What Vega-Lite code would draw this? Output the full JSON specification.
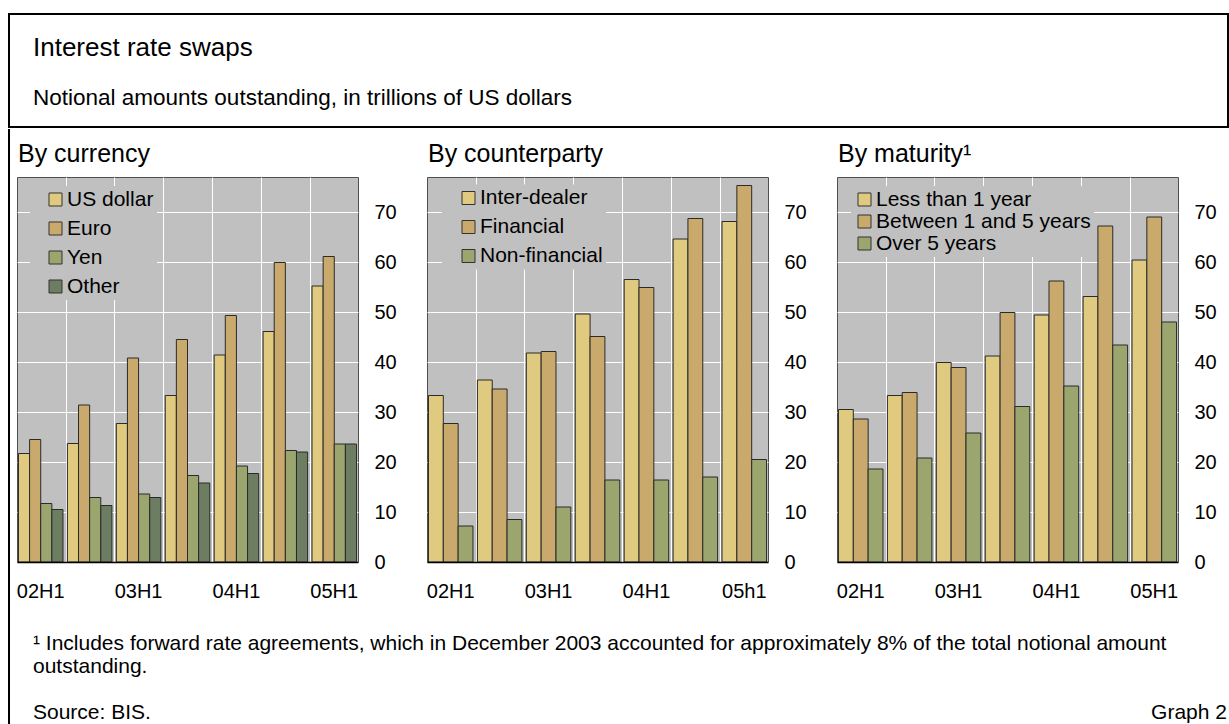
{
  "$schema": "https://vega.github.io/schema/vega-lite/v6.json",
  "background": "white",
  "padding": {"left": 8, "top": 13, "right": 0, "bottom": 0},
  "config": {
    "font": "Liberation Sans",
    "view": {"fill": "#c0c0c0", "stroke": "#505050", "strokeWidth": 1},
    "title": {"font": "Liberation Sans", "subtitleFont": "Liberation Sans", "fontWeight": "normal", "subtitleFontWeight": "normal", "color": "black", "subtitleColor": "black", "anchor": "start"},
    "axis": {"labelFont": "Liberation Sans", "labelColor": "black", "labelFontSize": 20, "ticks": false, "domain": false},
    "legend": {"labelFont": "Liberation Sans", "labelFontSize": 21, "labelColor": "black", "labelLimit": 400, "symbolType": "square", "symbolSize": 169, "symbolStrokeColor": "#333333", "symbolStrokeWidth": 1, "fillColor": "#c0c0c0", "padding": 3, "labelOffset": 1, "orient": "none"}
  },
  "datasets": {
    "currency": [
      {"period": "02H1", "series": "US dollar", "value": 21.7},
      {"period": "02H2", "series": "US dollar", "value": 23.7},
      {"period": "03H1", "series": "US dollar", "value": 27.7},
      {"period": "03H2", "series": "US dollar", "value": 33.3},
      {"period": "04H1", "series": "US dollar", "value": 41.4},
      {"period": "04H2", "series": "US dollar", "value": 46.1},
      {"period": "05H1", "series": "US dollar", "value": 55.2},
      {"period": "02H1", "series": "Euro", "value": 24.5},
      {"period": "02H2", "series": "Euro", "value": 31.4},
      {"period": "03H1", "series": "Euro", "value": 40.8},
      {"period": "03H2", "series": "Euro", "value": 44.5},
      {"period": "04H1", "series": "Euro", "value": 49.3},
      {"period": "04H2", "series": "Euro", "value": 59.9},
      {"period": "05H1", "series": "Euro", "value": 61.1},
      {"period": "02H1", "series": "Yen", "value": 11.7},
      {"period": "02H2", "series": "Yen", "value": 12.9},
      {"period": "03H1", "series": "Yen", "value": 13.6},
      {"period": "03H2", "series": "Yen", "value": 17.3},
      {"period": "04H1", "series": "Yen", "value": 19.2},
      {"period": "04H2", "series": "Yen", "value": 22.3},
      {"period": "05H1", "series": "Yen", "value": 23.6},
      {"period": "02H1", "series": "Other", "value": 10.5},
      {"period": "02H2", "series": "Other", "value": 11.3},
      {"period": "03H1", "series": "Other", "value": 12.9},
      {"period": "03H2", "series": "Other", "value": 15.8},
      {"period": "04H1", "series": "Other", "value": 17.7},
      {"period": "04H2", "series": "Other", "value": 22.0},
      {"period": "05H1", "series": "Other", "value": 23.6}
    ],
    "counterparty": [
      {"period": "02H1", "series": "Inter-dealer", "value": 33.3},
      {"period": "02H2", "series": "Inter-dealer", "value": 36.4},
      {"period": "03H1", "series": "Inter-dealer", "value": 41.8},
      {"period": "03H2", "series": "Inter-dealer", "value": 49.6},
      {"period": "04H1", "series": "Inter-dealer", "value": 56.5},
      {"period": "04H2", "series": "Inter-dealer", "value": 64.6},
      {"period": "05h1", "series": "Inter-dealer", "value": 68.1},
      {"period": "02H1", "series": "Financial", "value": 27.7},
      {"period": "02H2", "series": "Financial", "value": 34.6},
      {"period": "03H1", "series": "Financial", "value": 42.1},
      {"period": "03H2", "series": "Financial", "value": 45.1},
      {"period": "04H1", "series": "Financial", "value": 54.9},
      {"period": "04H2", "series": "Financial", "value": 68.7},
      {"period": "05h1", "series": "Financial", "value": 75.3},
      {"period": "02H1", "series": "Non-financial", "value": 7.2},
      {"period": "02H2", "series": "Non-financial", "value": 8.5},
      {"period": "03H1", "series": "Non-financial", "value": 11.0},
      {"period": "03H2", "series": "Non-financial", "value": 16.4},
      {"period": "04H1", "series": "Non-financial", "value": 16.4},
      {"period": "04H2", "series": "Non-financial", "value": 17.0},
      {"period": "05h1", "series": "Non-financial", "value": 20.5}
    ],
    "maturity": [
      {"period": "02H1", "series": "Less than 1 year", "value": 30.5},
      {"period": "02H2", "series": "Less than 1 year", "value": 33.3},
      {"period": "03H1", "series": "Less than 1 year", "value": 39.9},
      {"period": "03H2", "series": "Less than 1 year", "value": 41.2},
      {"period": "04H1", "series": "Less than 1 year", "value": 49.4},
      {"period": "04H2", "series": "Less than 1 year", "value": 53.1},
      {"period": "05H1", "series": "Less than 1 year", "value": 60.4},
      {"period": "02H1", "series": "Between 1 and 5 years", "value": 28.6},
      {"period": "02H2", "series": "Between 1 and 5 years", "value": 33.9},
      {"period": "03H1", "series": "Between 1 and 5 years", "value": 38.9},
      {"period": "03H2", "series": "Between 1 and 5 years", "value": 49.9},
      {"period": "04H1", "series": "Between 1 and 5 years", "value": 56.2},
      {"period": "04H2", "series": "Between 1 and 5 years", "value": 67.2},
      {"period": "05H1", "series": "Between 1 and 5 years", "value": 69.0},
      {"period": "02H1", "series": "Over 5 years", "value": 18.6},
      {"period": "02H2", "series": "Over 5 years", "value": 20.8},
      {"period": "03H1", "series": "Over 5 years", "value": 25.8},
      {"period": "03H2", "series": "Over 5 years", "value": 31.1},
      {"period": "04H1", "series": "Over 5 years", "value": 35.2},
      {"period": "04H2", "series": "Over 5 years", "value": 43.4},
      {"period": "05H1", "series": "Over 5 years", "value": 48.0}
    ],
    "blank": [{}]
  },
  "spacing": -4,
  "vconcat": [
    {
      "width": 1219,
      "height": 113,
      "view": {"fill": "white", "stroke": "black", "strokeWidth": 2},
      "title": {"text": "Interest rate swaps", "subtitle": "Notional amounts outstanding, in trillions of US dollars", "orient": "top", "anchor": "start", "frame": "group", "dx": 24, "offset": -95, "fontSize": 26, "subtitleFontSize": 22.5, "subtitlePadding": 26},
      "data": {"name": "blank"},
      "mark": {"type": "text", "text": ""}
    },
    {
      "spacing": 4,
      "hconcat": [
        {
          "width": 0.01,
          "height": 600,
          "view": {"fill": "white", "stroke": "black", "strokeWidth": 2},
          "data": {"name": "blank"},
          "mark": {"type": "text", "text": ""}
        },
        {
          "spacing": 5,
          "vconcat": [
            {
              "width": 1,
              "height": 0.01,
              "view": {"fill": "white", "stroke": null},
              "data": {"name": "blank"},
              "mark": {"type": "text", "text": ""}
            },
            {
              "spacing": 69,
              "bounds": "flush",
              "resolve": {"scale": {"color": "independent", "xOffset": "independent"}},
              "hconcat": [
                {
                  "width": 341,
                  "height": 385,
                  "title": {"text": "By currency", "fontSize": 25, "offset": 10, "anchor": "start", "frame": "group", "dx": 1},
                  "data": {"name": "currency"},
                  "resolve": {"axis": {"x": "independent"}},
                  "layer": [
                    {
                      "mark": {"type": "bar", "stroke": "#2a2a2a", "strokeWidth": 1},
                      "encoding": {
                        "x": {"field": "period", "type": "nominal", "sort": ["02H1","02H2","03H1","03H2","04H1","04H2","05H1"], "scale": {"paddingInner": 0.09, "paddingOuter": 0.03},
                              "axis": {"orient": "bottom", "values": ["02H1","03H1","04H1","05H1"], "labelAngle": 0, "labelPadding": 19, "grid": false, "domain": true, "domainColor": "black", "domainWidth": 1.5, "title": null, "zindex": 1}},
                        "xOffset": {"field": "series", "type": "nominal", "sort": ["US dollar","Euro","Yen","Other"]},
                        "y": {"field": "value", "type": "quantitative", "scale": {"domain": [0, 77], "nice": false},
                              "axis": {"orient": "right", "values": [0,10,20,30,40,50,60,70], "grid": true, "gridColor": "white", "gridWidth": 1, "labelPadding": 16, "title": null}},
                        "color": {"field": "series", "type": "nominal", "sort": ["US dollar","Euro","Yen","Other"],
                                  "scale": {"domain": ["US dollar","Euro","Yen","Other"], "range": ["#e0ca7f","#c9aa6c","#9ba66e","#6c7d62"]},
                                  "legend": {"title": null, "orient": "none", "legendX": 13, "legendY": 9, "symbolOffset": 12, "rowPadding": 7}}
                      }
                    },
                    {
                      "mark": {"type": "rule", "opacity": 0},
                      "encoding": {
                        "x": {"field": "period", "type": "nominal", "sort": ["02H1","02H2","03H1","03H2","04H1","04H2","05H1"],
                              "axis": {"orient": "top", "values": ["02H2","03H1","03H2","04H1","04H2","05H1"], "bandPosition": -0.03, "grid": true, "gridColor": "white", "gridWidth": 1, "labels": false, "domain": false, "ticks": false, "title": null}}
                      }
                    }
                  ]
                },
                {
                  "width": 341,
                  "height": 385,
                  "title": {"text": "By counterparty", "fontSize": 25, "offset": 10, "anchor": "start", "frame": "group", "dx": 1},
                  "data": {"name": "counterparty"},
                  "resolve": {"axis": {"x": "independent"}},
                  "layer": [
                    {
                      "mark": {"type": "bar", "stroke": "#2a2a2a", "strokeWidth": 1},
                      "encoding": {
                        "x": {"field": "period", "type": "nominal", "sort": ["02H1","02H2","03H1","03H2","04H1","04H2","05h1"], "scale": {"paddingInner": 0.09, "paddingOuter": 0.03},
                              "axis": {"orient": "bottom", "values": ["02H1","03H1","04H1","05h1"], "labelAngle": 0, "labelPadding": 19, "grid": false, "domain": true, "domainColor": "black", "domainWidth": 1.5, "title": null, "zindex": 1}},
                        "xOffset": {"field": "series", "type": "nominal", "sort": ["Inter-dealer","Financial","Non-financial"]},
                        "y": {"field": "value", "type": "quantitative", "scale": {"domain": [0, 77], "nice": false},
                              "axis": {"orient": "right", "values": [0,10,20,30,40,50,60,70], "grid": true, "gridColor": "white", "gridWidth": 1, "labelPadding": 16, "title": null}},
                        "color": {"field": "series", "type": "nominal", "sort": ["Inter-dealer","Financial","Non-financial"],
                                  "scale": {"domain": ["Inter-dealer","Financial","Non-financial"], "range": ["#e0ca7f","#c9aa6c","#9ba66e"]},
                                  "legend": {"title": null, "orient": "none", "legendX": 15, "legendY": 7.5, "symbolOffset": 13, "rowPadding": 7}}
                      }
                    },
                    {
                      "mark": {"type": "rule", "opacity": 0},
                      "encoding": {
                        "x": {"field": "period", "type": "nominal", "sort": ["02H1","02H2","03H1","03H2","04H1","04H2","05h1"],
                              "axis": {"orient": "top", "values": ["02H2","03H1","03H2","04H1","04H2","05h1"], "bandPosition": -0.03, "grid": true, "gridColor": "white", "gridWidth": 1, "labels": false, "domain": false, "ticks": false, "title": null}}
                      }
                    }
                  ]
                },
                {
                  "width": 341,
                  "height": 385,
                  "title": {"text": "By maturity¹", "fontSize": 25, "offset": 10, "anchor": "start", "frame": "group", "dx": 1},
                  "data": {"name": "maturity"},
                  "resolve": {"axis": {"x": "independent"}},
                  "layer": [
                    {
                      "mark": {"type": "bar", "stroke": "#2a2a2a", "strokeWidth": 1},
                      "encoding": {
                        "x": {"field": "period", "type": "nominal", "sort": ["02H1","02H2","03H1","03H2","04H1","04H2","05H1"], "scale": {"paddingInner": 0.09, "paddingOuter": 0.03},
                              "axis": {"orient": "bottom", "values": ["02H1","03H1","04H1","05H1"], "labelAngle": 0, "labelPadding": 19, "grid": false, "domain": true, "domainColor": "black", "domainWidth": 1.5, "title": null, "zindex": 1}},
                        "xOffset": {"field": "series", "type": "nominal", "sort": ["Less than 1 year","Between 1 and 5 years","Over 5 years"]},
                        "y": {"field": "value", "type": "quantitative", "scale": {"domain": [0, 77], "nice": false},
                              "axis": {"orient": "right", "values": [0,10,20,30,40,50,60,70], "grid": true, "gridColor": "white", "gridWidth": 1, "labelPadding": 16, "title": null}},
                        "color": {"field": "series", "type": "nominal", "sort": ["Less than 1 year","Between 1 and 5 years","Over 5 years"],
                                  "scale": {"domain": ["Less than 1 year","Between 1 and 5 years","Over 5 years"], "range": ["#e0ca7f","#c9aa6c","#9ba66e"]},
                                  "legend": {"title": null, "orient": "none", "legendX": 14, "legendY": 9, "symbolOffset": 0, "rowPadding": 0}}
                      }
                    },
                    {
                      "mark": {"type": "rule", "opacity": 0},
                      "encoding": {
                        "x": {"field": "period", "type": "nominal", "sort": ["02H1","02H2","03H1","03H2","04H1","04H2","05H1"],
                              "axis": {"orient": "top", "values": ["02H2","03H1","03H2","04H1","04H2","05H1"], "bandPosition": -0.03, "grid": true, "gridColor": "white", "gridWidth": 1, "labels": false, "domain": false, "ticks": false, "title": null}}
                      }
                    }
                  ]
                }
              ]
            },
            {
              "spacing": 0,
              "bounds": "flush",
              "hconcat": [
                {
                  "width": 600,
                  "height": 0.01,
                  "view": {"fill": "white", "stroke": null},
                  "title": {"text": ["¹ Includes forward rate agreements, which in December 2003 accounted for approximately 8% of the total notional amount", "outstanding."], "subtitle": "Source: BIS.", "orient": "bottom", "anchor": "start", "frame": "group", "dx": 16, "offset": 15, "fontSize": 21, "lineHeight": 23, "subtitleFontSize": 21, "subtitlePadding": 25},
                  "data": {"name": "blank"},
                  "mark": {"type": "text", "text": ""}
                },
                {
                  "width": 610,
                  "height": 0.01,
                  "view": {"fill": "white", "stroke": null},
                  "title": {"text": "Graph 2", "orient": "bottom", "anchor": "end", "frame": "group", "offset": 84, "fontSize": 21},
                  "data": {"name": "blank"},
                  "mark": {"type": "text", "text": ""}
                }
              ]
            }
          ]
        }
      ]
    }
  ]
}
